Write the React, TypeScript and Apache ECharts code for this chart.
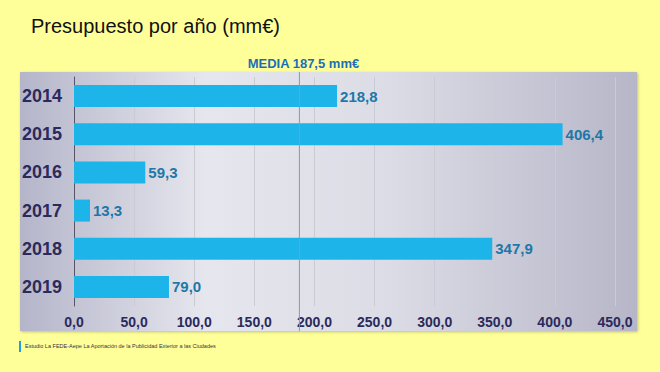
import React, { useEffect, useRef } from "react";
import * as echarts from "echarts";

const years = ["2014", "2015", "2016", "2017", "2018", "2019"];
const budget = [218.8, 406.4, 59.3, 13.3, 347.9, 79.0];
const meanValue = 187.5;
const xMin = 0;
const xMax = 450;
const xStep = 50;

const fmt = (v: number) => v.toFixed(1).replace(".", ",");

export default function App() {
  const ref = useRef<HTMLDivElement>(null);
  useEffect(() => {
    if (!ref.current) return;
    const chart = echarts.init(ref.current, null, { renderer: "svg" });
    const panel = {
      type: "rect",
      shape: { x: 20, y: 72, width: 617, height: 259 },
      z: -10,
      style: {
        fill: new echarts.graphic.LinearGradient(0, 0, 1, 0, [
          { offset: 0, color: "#b4b5c9" },
          { offset: 0.3, color: "#e6e6ee" },
          { offset: 0.6, color: "#dcdce6" },
          { offset: 1, color: "#b6b6c8" },
        ]),
        shadowBlur: 3,
        shadowColor: "rgba(0,0,0,0.25)",
        shadowOffsetX: 1,
        shadowOffsetY: 1,
      },
    };
    const baseGraphics: any[] = [
      panel,
      {
        type: "text",
        x: 31,
        y: 16,
        style: {
          text: "Presupuesto por año (mm€)",
          font: "20px 'Liberation Sans', Arial, sans-serif",
          fill: "#111111",
        },
      },
      {
        type: "rect",
        shape: { x: 19, y: 341, width: 2, height: 11 },
        style: { fill: "#1da0e0" },
      },
      {
        type: "text",
        x: 25,
        y: 346,
        style: {
          text: "Estudio La FEDE-Aepe La Aportación de la Publicidad Exterior a las Ciudades",
          font: "5.5px 'Liberation Sans', Arial, sans-serif",
          fill: "#333344",
          verticalAlign: "middle",
        },
      },
    ];
    chart.setOption({
      animation: false,
      backgroundColor: "#ffff99",
      grid: { left: 74, right: 45, top: 77, bottom: 66, containLabel: false },
      xAxis: {
        type: "value",
        min: xMin,
        max: xMax,
        interval: xStep,
        axisLine: { show: false },
        axisTick: { show: false },
        splitLine: { show: true, lineStyle: { color: "#cbcbd6", width: 1 } },
        axisLabel: {
          formatter: (v: number) => fmt(v),
          color: "#2b2a5c",
          fontWeight: "bold",
          fontSize: 14,
          fontFamily: "'Liberation Sans', Arial, sans-serif",
          margin: 9,
        },
      },
      yAxis: {
        type: "category",
        data: years,
        inverse: true,
        axisLine: { show: true, lineStyle: { color: "#555566", width: 1 } },
        axisTick: { show: false },
        axisLabel: {
          color: "#2b2a5c",
          fontWeight: "bold",
          fontSize: 18,
          fontFamily: "'Liberation Sans', Arial, sans-serif",
          margin: 12,
        },
      },
      series: [
        {
          type: "bar",
          data: budget,
          barWidth: 22,
          itemStyle: { color: "#1db4ea" },
          label: {
            show: true,
            position: "right",
            distance: 3,
            formatter: (p: any) => fmt(p.value),
            color: "#1c78a8",
            fontWeight: "bold",
            fontSize: 15,
            fontFamily: "'Liberation Sans', Arial, sans-serif",
          },
        },
      ],
      graphic: baseGraphics,
    });
    const mx = chart.convertToPixel({ xAxisIndex: 0 }, meanValue) as number;
    chart.setOption({
      graphic: [
        ...baseGraphics,
        {
          type: "line",
          shape: { x1: mx, y1: 72, x2: mx, y2: 331 },
          z: 5,
          style: { stroke: "#7f9cc4", lineWidth: 1 },
        },
        {
          type: "text",
          x: mx + 4,
          y: 63,
          style: {
            text: "MEDIA " + fmt(meanValue) + " mm€",
            font: "bold 13px 'Liberation Sans', Arial, sans-serif",
            fill: "#1a70b8",
            align: "center",
            verticalAlign: "middle",
          },
        },
      ],
    });
    return () => chart.dispose();
  }, []);
  return (
    <div
      ref={ref}
      style={{ position: "fixed", left: 0, top: 0, width: 660, height: 372 }}
    />
  );
}
